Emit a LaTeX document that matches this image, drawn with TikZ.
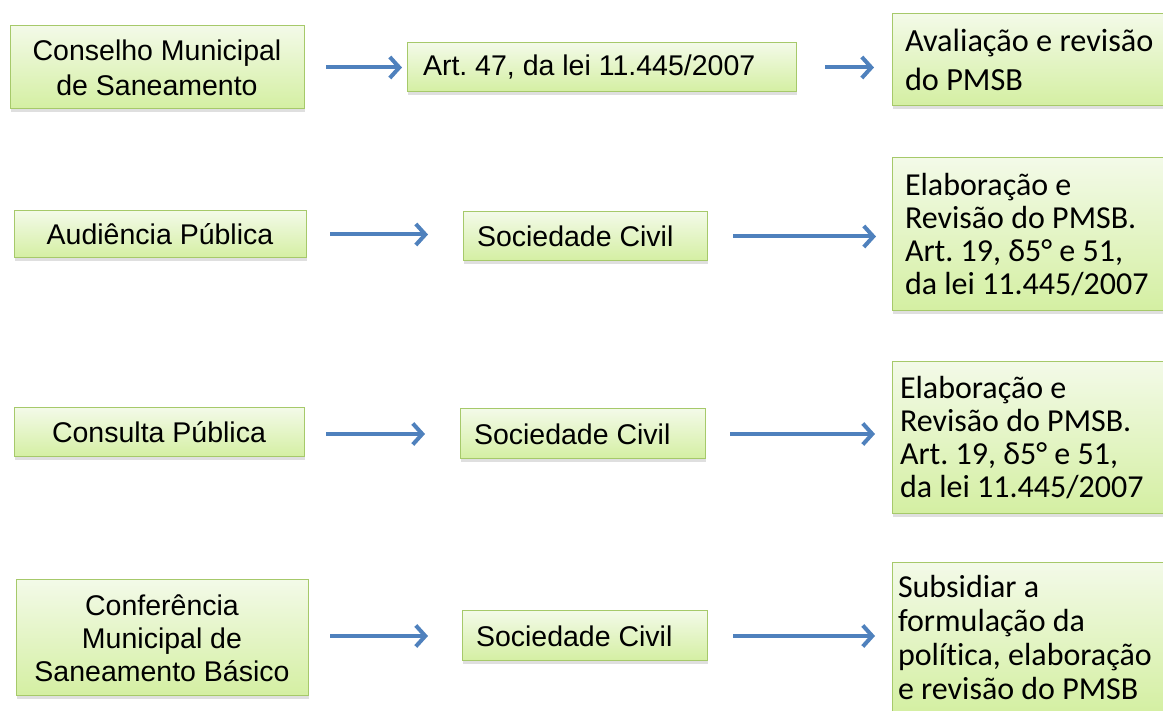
\documentclass[tikz,border=0pt]{standalone}
\usepackage{fontspec}
\setmainfont{Liberation Sans}
\newfontfamily\calib{Carlito}[Ligatures=NoCommon]
\usetikzlibrary{arrows.meta,shadows,calc}
\definecolor{boxtop}{RGB}{243,250,232}
\definecolor{boxbot}{RGB}{212,239,162}
\definecolor{boxline}{RGB}{166,201,106}
\definecolor{arrblue}{RGB}{79,129,189}
\frenchspacing
\begin{document}
\begin{tikzpicture}[x=1pt,y=1pt,
  box/.style={draw=boxline, line width=1pt, top color=boxtop, bottom color=boxbot,
    drop shadow={shadow xshift=1pt,shadow yshift=-3pt,opacity=0.25},
    anchor=north west, inner sep=0pt, outer sep=0pt},
  lbox/.style={box, font=\fontsize{28.5}{35}\selectfont, align=center},
  mbox/.style={box, font=\fontsize{28.5}{35}\selectfont, align=flush left},
  rbox/.style={box, align=flush left},
  arr/.style={draw=arrblue, line width=4pt, -{Straight Barb[length=9.5pt,width=21pt]}}]
\useasboundingbox (0,0) rectangle (1163,711);
\clip (0,0) rectangle (1163,711);

% row 1
\node[lbox, minimum width=294, minimum height=83] (A1) at (10,685) {Conselho Municipal\\de Saneamento};
\node[mbox, minimum width=389, minimum height=49, inner xsep=16, text width=357] (A2) at (407,668) {Art. 47, da lei 11.445/2007};
\node[rbox, minimum height=92, inner xsep=13, text width=274, font=\calib\fontsize{32.3}{39}\selectfont] (A3) at (892,697) {Avaliação e revisão\\do PMSB};

% row 2
\node[lbox, minimum width=292, minimum height=47] (B1) at (14,500) {Audiência Pública};
\node[mbox, minimum width=244, minimum height=49, inner xsep=14, text width=216] (B2) at (463,499) {Sociedade Civil};
\node[rbox, minimum height=153, inner xsep=13, text width=274, font=\calib\fontsize{32}{33}\selectfont] (B3) at (892,553) {Elaboração e\\Revisão do PMSB.\\Art. 19, δ5° e 51,\\da lei 11.445/2007};

% row 3
\node[lbox, minimum width=290, minimum height=49] (C1) at (14,303) {Consulta Pública};
\node[mbox, minimum width=245, minimum height=50, inner xsep=14, text width=217] (C2) at (460,302) {Sociedade Civil};
\node[rbox, minimum height=152, inner xsep=8, text width=284, font=\calib\fontsize{32}{33}\selectfont] (C3) at (892,349) {Elaboração e\\Revisão do PMSB.\\Art. 19, δ5° e 51,\\da lei 11.445/2007};

% row 4
\node[lbox, minimum width=292, minimum height=116, font=\fontsize{28.5}{33}\selectfont] (D1) at (16,131) {Conferência\\Municipal de\\Saneamento Básico};
\node[mbox, minimum width=245, minimum height=50, inner xsep=14, text width=217] (D2) at (462,100) {Sociedade Civil};
\node[rbox, minimum height=150, inner xsep=6, text width=288, font=\calib\fontsize{32}{34}\selectfont] (D3) at (892,148) {Subsidiar a\\formulação da\\política, elaboração\\e revisão do PMSB};

% connectors
\draw[arr] ($(A1.east)+(22,0)$) -- ($(A2.west)+(-5,0)$);
\draw[arr] ($(A2.east)+(29,0)$) -- ($(A3.west|-A2.east)+(-18,0)$);
\draw[arr] ($(B1.east)+(24,0)$) -- ($(B2.west|-B1.east)+(-35,0)$);
\draw[arr] ($(B2.east)+(26,0)$) -- ($(B3.west|-B2.east)+(-16,0)$);
\draw[arr] ($(C1.east|-C2.west)+(22,0)$) -- ($(C2.west)+(-35,0)$);
\draw[arr] ($(C2.east)+(25,0)$) -- ($(C3.west|-C2.east)+(-17,0)$);
\draw[arr] ($(D1.east|-D2.west)+(22,0)$) -- ($(D2.west)+(-34,0)$);
\draw[arr] ($(D2.east)+(26,0)$) -- ($(D3.west|-D2.east)+(-17,0)$);
\end{tikzpicture}
\end{document}
